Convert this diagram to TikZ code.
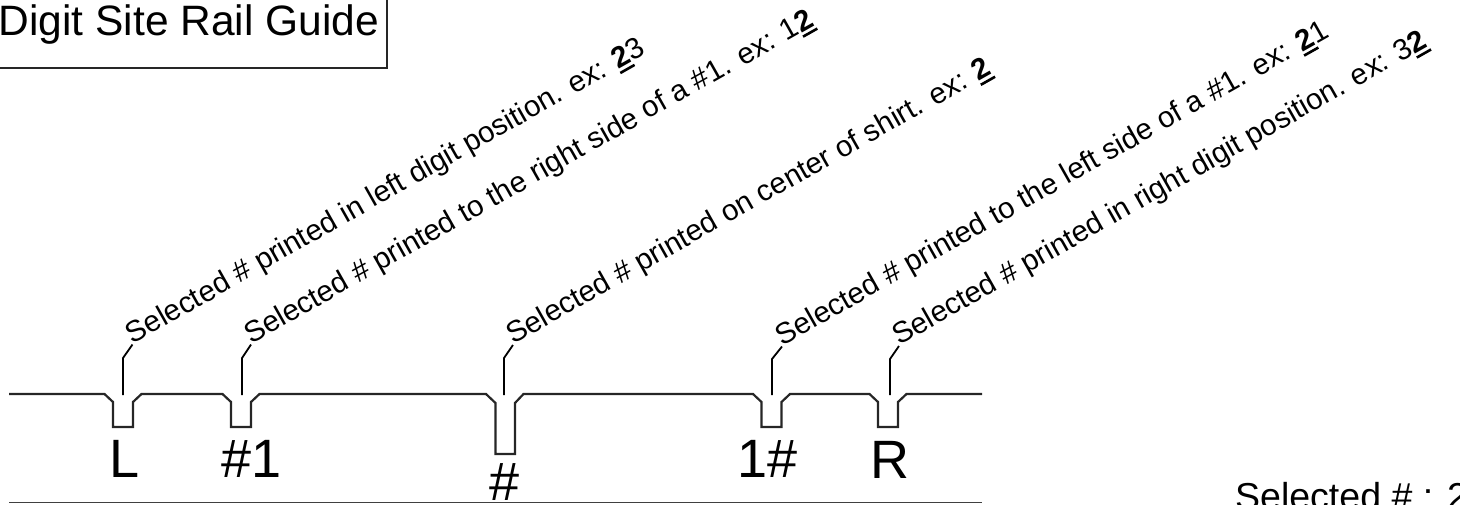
\documentclass[tikz,border=0pt]{standalone}
\usepackage{fontspec}
\setmainfont{Liberation Sans}
\newsavebox\digbox
\newcommand\udig[1]{\sbox\digbox{\bfseries #1}\rlap{\rule[-5.2pt]{\wd\digbox}{2.6pt}}\usebox\digbox\relax}
\begin{document}
\begin{tikzpicture}[x=1pt,y=1pt,
  rail/.style={line width=2.2pt, black!85, line join=miter},
  lead/.style={line width=1.8pt, black},
  baseline rule/.style={line width=1.7pt, black!75},
  note/.style={anchor=base west, rotate=29.5, inner sep=0pt, font=\fontsize{29.5}{31}\selectfont},
  notchlabel/.style={anchor=base, inner sep=0pt, font=\fontsize{54}{56}\selectfont},
  titletext/.style={anchor=base west, inner sep=0pt, font=\fontsize{42.5}{44}\selectfont},
  titlebox/.style={line width=2pt, black!85}
]
\useasboundingbox (0,0) rectangle (1460,-504);

% title
\node[titletext] (title) at (-1.5,-35) {Digit Site Rail Guide};
\draw[titlebox] (-10,10) rectangle (387,-68);

% rail
\draw[rail] (9,-394) -- (104.5,-394) -- (113,-402) -- (113,-427) -- (133,-427) -- (133,-402) -- (141.5,-394)
  -- (222.5,-394) -- (231,-402) -- (231,-427) -- (251,-427) -- (251,-402) -- (259.5,-394)
  -- (486,-394) -- (495.5,-403) -- (495.5,-454) -- (515,-454) -- (515,-403) -- (523.5,-394)
  -- (753,-394) -- (761.5,-402) -- (761.5,-427) -- (781.5,-427) -- (781.5,-402) -- (790,-394)
  -- (869.5,-394) -- (878,-402) -- (878,-427) -- (898,-427) -- (898,-402) -- (906.5,-394)
  -- (982,-394);

% bottom rule
\draw[baseline rule] (9,-502.5) -- (982,-502.5);

% callout anchor points
\coordinate (cL) at (123,-395);
\coordinate (c1) at (242,-395);
\coordinate (cC) at (504,-395);
\coordinate (c1r) at (772,-395);
\coordinate (cR) at (890,-395);

% rotated notes
\node[note] (tL) at (132.5,-344.5) {Selected \# printed in left digit position. ex: \udig{2}3};
\node[note] (t1) at (251,-344.5) {Selected \# printed to the right side of a \#1. ex: 1\udig{2}};
\node[note] (tC) at (513,-345) {Selected \# printed on center of shirt. ex: \udig{2}};
\node[note] (t1r) at (782,-346.5) {Selected \# printed to the left side of a \#1. ex: \udig{2}1};
\node[note] (tR) at (899,-346) {Selected \# printed in right digit position. ex: 3\udig{2}};

% leaders
\draw[lead] (cL) -- ++(0,37) -- (tL.base west);
\draw[lead] (c1) -- ++(0,37) -- (t1.base west);
\draw[lead] (cC) -- ++(0,37) -- (tC.base west);
\draw[lead] (c1r) -- ++(0,36) -- (t1r.base west);
\draw[lead] (cR) -- ++(0,36) -- (tR.base west);

% notch labels
\node[notchlabel] (lL) at (125,-477) {L};
\node[notchlabel] (l1) at (252,-477) {\#1};
\node[notchlabel] (lC) at (505,-500) {\#};
\node[notchlabel] (l1r) at (768,-477) {1\#};
\node[notchlabel] (lR) at (890,-478) {R};

% selected value
\node[anchor=base west, inner sep=0pt, font=\fontsize{37.5}{40}\selectfont] (sel) at (1235,-509) {Selected \# : 2};
\end{tikzpicture}
\end{document}
